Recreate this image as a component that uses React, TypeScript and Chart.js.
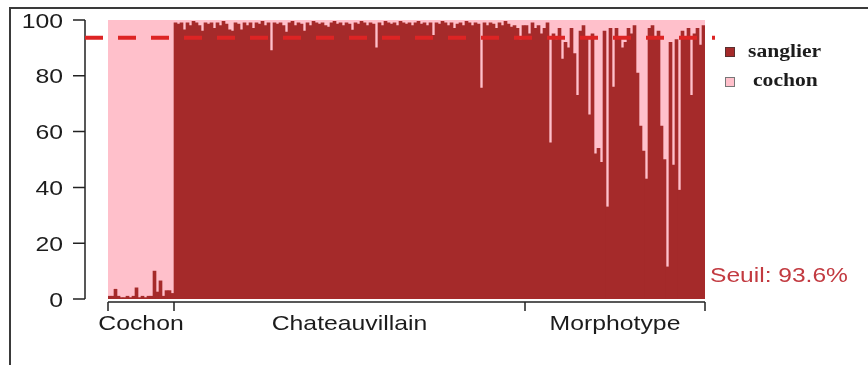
import React, { useEffect, useRef } from 'react';
import { Chart, registerables } from 'chart.js';

Chart.register(...registerables);

// ---- data (sanglier membership %, one value per individual) ----
const groupNames = ['Cochon', 'Chateauvillain', 'Morphotype'];
const seriesNames = ['sanglier', 'cochon'];
const threshold = 93.6;
const thresholdLabel = 'Seuil: 93.6%';
const yTicks = [0, 20, 40, 60, 80, 100];

const cochonGroupSanglier = [
  1, 1, 3.5, 1, 0.5, 0.5, 1, 0.5, 1, 4, 0.5, 1, 0.5, 1, 1, 10, 2.5, 6.5, 1, 3, 3, 2,
];

const chateauvillainSanglier = [
  99, 98.5, 99, 96.5, 99, 98, 99.5, 99, 98, 96,
  99, 98.5, 99, 97, 99, 98, 99.5, 98.5, 96.5, 96,
  99, 98.5, 96.5, 99, 98, 99, 97, 99, 98.5, 99.5,
  98, 99, 89, 99, 98.5, 99, 98, 95.7, 99, 99.5,
  98, 99, 98.5, 96, 99, 98, 99.5, 99, 98.5, 99,
  98, 97.5, 99, 99.5, 98.5, 99, 98, 99, 98.5, 96.4,
  99, 98.5, 99.5, 99, 98, 99, 98.5, 90, 99, 98,
  99.5, 99, 98.5, 99, 98, 99.5, 99, 98.5, 99, 98,
  99, 99.5, 98.5, 99, 98, 99, 94.5, 99, 98.5, 99.5,
  99, 98, 99, 97, 98.5, 99, 98, 99.5, 99, 98,
  99, 98.5, 75.6, 99, 98, 99, 98.5, 97, 99, 98,
  99.5, 98.5, 97.5, 98, 97, 93, 98,
];

const morphotypeSanglier = [
  98, 95, 99, 97, 98, 95, 97, 99, 56, 95,
  93, 97, 86, 92, 90, 97, 88, 73, 96, 98,
  93.5, 66, 95, 52, 54, 49, 96, 33, 97, 76,
  97, 94, 90, 92, 97, 95, 98, 81, 62, 53,
  43, 97, 98, 94, 96, 62, 50, 11.5, 92, 48,
  93, 39, 96, 94, 97, 73, 95, 97, 91, 98,
];

const groups = [cochonGroupSanglier, chateauvillainSanglier, morphotypeSanglier];
const sanglier = groups.flat();
const cochon = sanglier.map((v) => Math.round((100 - v) * 100) / 100);
const labels = sanglier.map((_, i) => String(i));

const SANGLIER_COLOR = '#a52a2a';
const COCHON_COLOR = '#ffc0cb';
const TEXT_COLOR = '#1c1c1c';

function drawText(
  ctx: CanvasRenderingContext2D,
  str: string,
  px: number,
  py: number,
  align: 'left' | 'center' | 'right',
  font: string,
  color: string,
  scale: number
) {
  ctx.save();
  ctx.font = font;
  ctx.fillStyle = color;
  ctx.textBaseline = 'alphabetic';
  ctx.textAlign = 'left';
  const w = ctx.measureText(str).width * scale;
  const left = align === 'center' ? px - w / 2 : align === 'right' ? px - w : px;
  ctx.translate(left, py);
  ctx.scale(scale, 1);
  ctx.fillText(str, 0, 0);
  ctx.restore();
}

const decorPlugin = {
  id: 'decor',
  afterDatasetsDraw(chart: any) {
    const ctx: CanvasRenderingContext2D = chart.ctx;
    const x = chart.scales.x;
    const y = chart.scales.y;
    const area = chart.chartArea;
    const sx = 1.18;
    const axisFont = '21px "Liberation Sans", Arial, sans-serif';

    // frame
    ctx.save();
    ctx.strokeStyle = '#3a3a3a';
    ctx.lineWidth = 2;
    ctx.strokeRect(10, 8, 880, 380);
    ctx.restore();

    // y axis
    const axisX = area.left - 23;
    const y0 = y.getPixelForValue(0);
    const y100 = y.getPixelForValue(100);
    ctx.save();
    ctx.strokeStyle = '#222';
    ctx.lineWidth = 1.5;
    ctx.beginPath();
    ctx.moveTo(axisX, y100);
    ctx.lineTo(axisX, y0);
    yTicks.forEach((t) => {
      const py = y.getPixelForValue(t);
      ctx.moveTo(axisX - 12, py);
      ctx.lineTo(axisX, py);
    });
    ctx.stroke();
    ctx.restore();
    yTicks.forEach((t) => {
      const py = y.getPixelForValue(t);
      drawText(ctx, String(t), axisX - 22, py + 7.5, 'right', axisFont, TEXT_COLOR, sx);
    });

    // x axis with group ticks
    const half = (x.getPixelForValue(1) - x.getPixelForValue(0)) / 2;
    const bounds: number[] = [];
    let idx = 0;
    groups.forEach((g) => {
      bounds.push(x.getPixelForValue(idx) - half);
      idx += g.length;
    });
    bounds.push(x.getPixelForValue(idx - 1) + half);
    const axisY = y0 + 3;
    ctx.save();
    ctx.strokeStyle = '#222';
    ctx.lineWidth = 1.5;
    ctx.beginPath();
    ctx.moveTo(bounds[0], axisY);
    ctx.lineTo(bounds[bounds.length - 1], axisY);
    bounds.forEach((b) => {
      ctx.moveTo(b, axisY);
      ctx.lineTo(b, axisY + 9);
    });
    ctx.stroke();
    ctx.restore();
    groupNames.forEach((name, i) => {
      const cx = (bounds[i] + bounds[i + 1]) / 2;
      drawText(ctx, name, cx, axisY + 28, 'center', axisFont, TEXT_COLOR, sx);
    });

    // threshold dashed line
    const ty = y.getPixelForValue(threshold);
    ctx.save();
    ctx.strokeStyle = '#dd2424';
    ctx.lineWidth = 4;
    ctx.setLineDash([18, 15]);
    ctx.beginPath();
    ctx.moveTo(axisX, ty);
    ctx.lineTo(area.right + 10, ty);
    ctx.stroke();
    ctx.restore();

    drawText(ctx, thresholdLabel, area.right + 5, y0 - 17, 'left', axisFont, '#c23a40', 1.17);

    // legend
    const lx = area.right + 20;
    const legendFont = 'bold 18px "Liberation Serif", "Times New Roman", serif';
    const entries = [
      { name: seriesNames[0], color: SANGLIER_COLOR, border: '#5a3030', top: 47, tx: lx + 23, base: 57 },
      { name: seriesNames[1], color: COCHON_COLOR, border: '#777', top: 77, tx: lx + 28, base: 86 },
    ];
    entries.forEach((e) => {
      ctx.save();
      ctx.fillStyle = e.color;
      ctx.fillRect(lx, e.top, 10, 10);
      ctx.strokeStyle = e.border;
      ctx.lineWidth = 1;
      ctx.strokeRect(lx + 0.5, e.top + 0.5, 9, 9);
      ctx.restore();
      drawText(ctx, e.name, e.tx, e.base, 'left', legendFont, TEXT_COLOR, 1.2);
    });
  },
};

export default function App() {
  const canvasRef = useRef<HTMLCanvasElement | null>(null);

  useEffect(() => {
    const canvas = canvasRef.current;
    if (!canvas) return;
    const chart = new Chart(canvas, {
      type: 'bar',
      data: {
        labels,
        datasets: [
          {
            label: seriesNames[0],
            data: sanglier,
            backgroundColor: SANGLIER_COLOR,
            borderWidth: 0,
            barPercentage: 1,
            categoryPercentage: 1,
          },
          {
            label: seriesNames[1],
            data: cochon,
            backgroundColor: COCHON_COLOR,
            borderWidth: 0,
            barPercentage: 1,
            categoryPercentage: 1,
          },
        ],
      },
      options: {
        responsive: false,
        animation: false,
        layout: { padding: { left: 108, right: 163, top: 20, bottom: 66 } },
        plugins: {
          legend: { display: false },
          tooltip: { enabled: false },
        },
        scales: {
          x: { display: false, stacked: true },
          y: { display: false, stacked: true, min: 0, max: 100 },
        },
      },
      plugins: [decorPlugin],
    });
    return () => chart.destroy();
  }, []);

  return (
    <div style={{ position: 'fixed', left: 0, top: 0, width: 868, height: 365, background: '#fff' }}>
      <canvas ref={canvasRef} width={868} height={365} style={{ display: 'block' }} />
    </div>
  );
}
